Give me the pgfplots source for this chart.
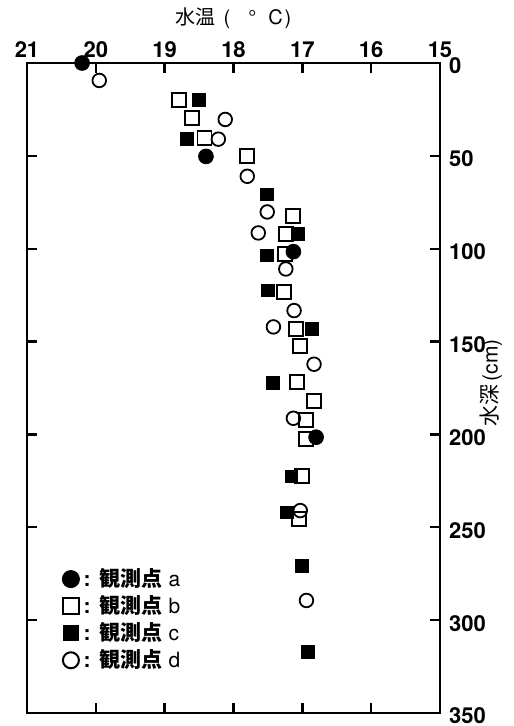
\documentclass[border=0pt]{standalone}
\usepackage{fontspec}
\setmainfont{TeX Gyre Heros}
\newfontfamily\jp{Noto Sans CJK JP}
\usepackage{pgfplots}
\pgfplotsset{compat=1.18}
\begin{document}
\begin{tikzpicture}
\useasboundingbox (-13.5pt,-6.5pt) rectangle (243pt,356.5pt);
\begin{axis}[
  scale only axis, width=206.5pt, height=325pt,
  x dir=reverse, y dir=reverse,
  xmin=15, xmax=21, ymin=0, ymax=350,
  xtick={15,16,...,21}, ytick={0,50,...,350},
  xticklabel pos=upper, yticklabel pos=right,
  tick align=inside, major tick length=5pt,
  axis line style={line width=1.3pt},
  every tick/.style={line width=1.2pt, black},
  /pgf/number format/assume math mode=true,
  ticklabel style={font=\fontsize{11}{13}\selectfont\bfseries},
  xticklabel style={yshift=-1pt},
  yticklabel style={anchor=west, xshift=1pt, yshift=-1.5pt},
  clip=false,
  legend style={draw=none, fill=none, at={(0.07,0.052)}, anchor=south west,
    font=\fontsize{10.5}{12}\selectfont, row sep=-1pt},
  legend cell align=left,
]
\addlegendimage{only marks, mark=*, mark size=4.3pt, black}
\addlegendentry{\textbf{:}\ \,{\jp\bfseries 観測点} a\rule[-8pt]{0pt}{1pt}}
\addlegendimage{only marks, mark=square, mark size=4pt, black, line width=1pt}
\addlegendentry{\textbf{:}\ \,{\jp\bfseries 観測点} b}
\addlegendimage{only marks, mark=square*, mark size=3.8pt, black}
\addlegendentry{\textbf{:}\ \,{\jp\bfseries 観測点} c}
\addlegendimage{only marks, mark=o, mark size=4pt, black, line width=1pt}
\addlegendentry{\textbf{:}\ \,{\jp\bfseries 観測点} d}

% b: open squares
\addplot[forget plot, only marks, mark=square, mark size=3.5pt, line width=0.9pt, black] coordinates {
(18.79,20.0) (18.60,29.6) (18.42,40.2) (17.80,49.9) (17.14,82.2) (17.24,92.1)
(17.25,102.9) (17.27,123.2) (17.09,143.2) (17.03,152.5) (17.08,171.9)
(16.83,182.2) (16.95,192.1) (16.95,202.3) (17.01,222.5) (17.05,245.5)
};
% c: filled squares
\addplot[forget plot, only marks, mark=square*, mark size=3.2pt, black] coordinates {
(18.50,19.8) (18.68,40.9) (17.51,70.7) (17.07,92.0) (17.51,103.6) (17.50,122.4)
(16.86,143.0) (17.43,172.1) (17.16,222.6) (17.22,242.0) (17.01,270.6) (16.92,316.9)
};
% d: open circles
\addplot[forget plot, only marks, mark=o, mark size=3.4pt, line width=0.9pt, black] coordinates {
(19.95,9.4) (18.12,30.4) (18.22,41.0) (17.80,61.0) (17.51,80.2) (17.64,91.5)
(17.24,110.9) (17.12,133.3) (17.42,142.1) (16.83,162.2) (17.13,191.3)
(17.03,241.0) (16.94,289.4)
};
% a: filled circles
\addplot[forget plot, only marks, mark=*, mark size=3.7pt, black] coordinates {
(20.20,0) (18.40,50.3) (17.13,101.6) (16.80,201.5)
};
\end{axis}
\node[font=\fontsize{10}{12}\selectfont] at (103.25pt,347.5pt)
  {{\jp 水温}\hspace{4pt}(\hspace{9pt}°\hspace{6pt}C\hspace{1pt})};
\node[rotate=90, font=\fontsize{10.5}{12}\selectfont] at (232pt,165pt) {{\jp 水深}\,(cm)};
\end{tikzpicture}
\end{document}
